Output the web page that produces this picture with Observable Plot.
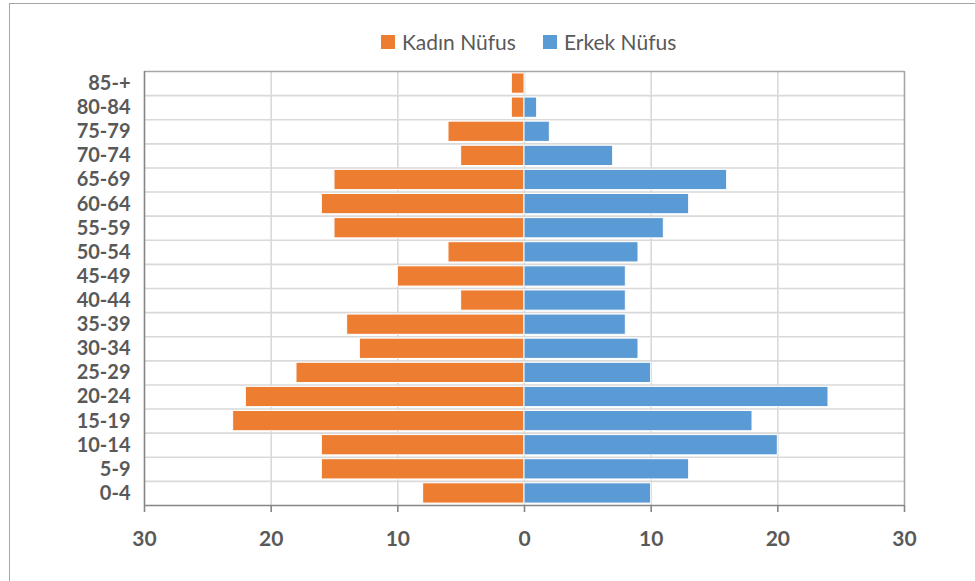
<!DOCTYPE html>
<html>
<head>
<meta charset="utf-8">
<script src="https://cdn.jsdelivr.net/npm/d3@7"></script>
<script src="https://cdn.jsdelivr.net/npm/@observablehq/plot@0.6"></script>
<style>
  html, body { margin: 0; padding: 0; background: #fff; }
  #wrap { position: relative; width: 975px; height: 581px; overflow: hidden; font-family: Lato, sans-serif; }
  #border { position: absolute; left: 9px; top: 3px; width: 1000px; height: 600px;
            border-top: 1px solid #a6a6a6; border-left: 1px solid #a6a6a6; }
  #legend { position: absolute; top: 29px; left: 381px; display: flex;
            gap: 27px; font-size: 21px; color: #595959; white-space: nowrap; }
  #legend span { display: inline-flex; align-items: center; }
  #legend i { display: inline-block; width: 14px; height: 14px; margin-right: 7px; }
  #chart { position: absolute; left: 0; top: 0; }
</style>
</head>
<body>
<div id="wrap">
  <div id="border"></div>
  <div id="chart"></div>
  <div id="legend"></div>
</div>
<script>
// Age groups, top of the pyramid first
const ageGroups = ["85-+", "80-84", "75-79", "70-74", "65-69", "60-64", "55-59", "50-54", "45-49",
                   "40-44", "35-39", "30-34", "25-29", "20-24", "15-19", "10-14", "5-9", "0-4"];
// Female population per age group (drawn to the left)
const female = [1, 1, 6, 5, 15, 16, 15, 6, 10, 5, 14, 13, 18, 22, 23, 16, 16, 8];
// Male population per age group (drawn to the right)
const male = [0, 1, 2, 7, 16, 13, 11, 9, 8, 8, 8, 9, 10, 24, 18, 20, 13, 10];
const seriesNames = ["Kadın Nüfus", "Erkek Nüfus"];
const seriesColors = ["#ED7D31", "#5B9BD5"];
const xTicks = [-30, -20, -10, 0, 10, 20, 30];

const rows = ageGroups.flatMap((age, i) => [
  {age, sex: seriesNames[0], value: -female[i]},
  {age, sex: seriesNames[1], value: male[i]}
]);

const W = 975, H = 581, mTop = 71, mBottom = 76, mLeft = 144, mRight = 71;
const step = (H - mTop - mBottom) / ageGroups.length;
const first = ageGroups[0], last = ageGroups[ageGroups.length - 1];

const chart = Plot.plot({
  width: W,
  height: H,
  marginTop: mTop,
  marginBottom: mBottom,
  marginLeft: mLeft,
  marginRight: mRight,
  style: {fontFamily: "Lato, sans-serif", background: "transparent", overflow: "visible"},
  x: {domain: [-30, 30], label: null},
  y: {domain: ageGroups, label: null, round: false, paddingInner: 0.16, paddingOuter: 0.08},
  color: {domain: seriesNames, range: seriesColors},
  marks: [
    // horizontal grid lines between age bands
    Plot.ruleY(ageGroups.slice(1), {y: d => d, dy: -step / 2, stroke: "#d9d9d9", strokeWidth: 1.6}),
    // vertical grid lines
    Plot.ruleX([-20, -10, 0, 10, 20], {stroke: "#d9d9d9", strokeWidth: 1.6}),
    Plot.barX(rows, {x: "value", y: "age", fill: "sex", stroke: "#fff", strokeWidth: 1}),
    // plot frame: top and right edges
    Plot.ruleY([first], {y: d => d, dy: -step / 2, stroke: "#a6a6a6", strokeWidth: 1.6}),
    Plot.ruleX([30], {stroke: "#a6a6a6", strokeWidth: 1.6}),
    // left axis line and bottom axis line
    Plot.ruleX([-30], {stroke: "#868686", strokeWidth: 1.6}),
    Plot.ruleY([last], {y: d => d, dy: step / 2, stroke: "#868686", strokeWidth: 1.6}),
    Plot.axisX({ticks: xTicks, tickFormat: d => Math.abs(d), tickSize: 7, tickPadding: 19,
                stroke: "#868686", strokeWidth: 1.6,
                fontSize: 21, fontWeight: "bold", fill: "#595959", label: null}),
    Plot.axisY({tickSize: 0, tickPadding: 14, fontSize: 20, fontWeight: "bold", fill: "#595959", label: null})
  ]
});
chart.querySelectorAll("text").forEach(t => t.style.fontWeight = "bold");
document.getElementById("chart").appendChild(chart);

const legend = document.getElementById("legend");
seriesNames.forEach((name, i) => {
  const item = document.createElement("span");
  const sw = document.createElement("i");
  sw.style.background = seriesColors[i];
  item.appendChild(sw);
  item.appendChild(document.createTextNode(name));
  legend.appendChild(item);
});
</script>
</body>
</html>
